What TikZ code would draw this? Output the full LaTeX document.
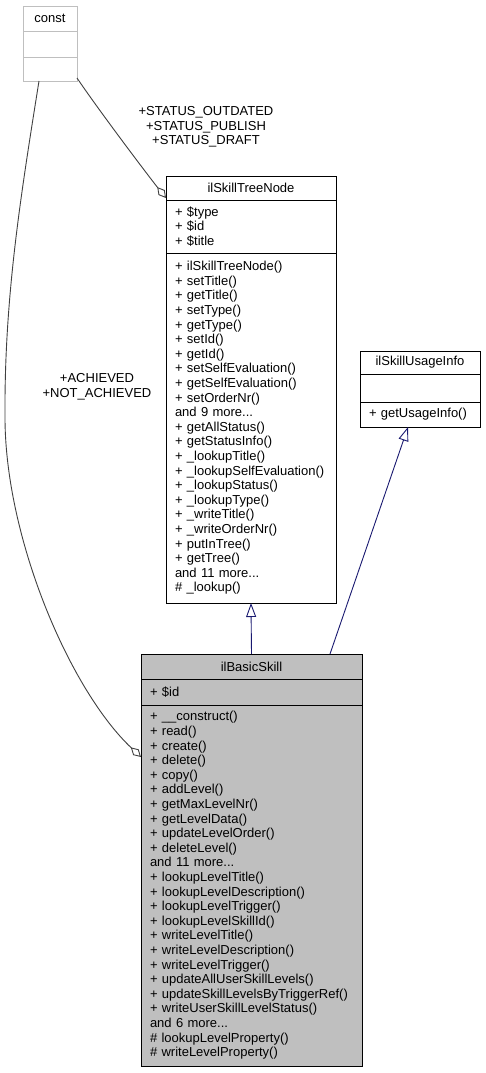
\documentclass[tikz,border=0pt]{standalone}
\usepackage{fontspec}
\setmainfont{Liberation Sans}
\usetikzlibrary{arrows.meta,positioning}
\definecolor{edgegray}{HTML}{404040}
\definecolor{inhblue}{HTML}{191970}
\definecolor{boxgray}{HTML}{BFBFBF}
\tikzstyle{cpart}=[draw=black,rectangle,outer sep=0pt,inner xsep=9pt,inner ysep=2pt,align=left,font=\fontsize{13}{14.6}\selectfont]
\tikzstyle{chead}=[cpart,align=center]
\tikzstyle{aggr}=[draw=edgegray,-{Diamond[open,length=14pt,width=8pt]}]
\tikzstyle{inher}=[draw=inhblue,-{Triangle[open,length=14pt,width=10pt]}]
\tikzstyle{elabel}=[align=center,font=\fontsize{13}{14.6}\selectfont]

\begin{document}
\begin{tikzpicture}[x=1pt,y=-1pt,line width=0.9pt]
\useasboundingbox (0,0) rectangle (486,1073);
% const
\node[chead,draw=boxgray,minimum width=54pt,text width=36pt,minimum height=25pt,anchor=north west] (chead) at (23,6) {const};
\node[cpart,draw=boxgray,minimum width=54pt,text width=36pt,minimum height=26pt,below=0pt of chead] (cattr) {};
\node[cpart,draw=boxgray,minimum width=54pt,text width=36pt,minimum height=24pt,below=0pt of cattr] (cmeth) {};
% ilSkillTreeNode
\node[chead,minimum width=170pt,text width=152pt,minimum height=24pt,anchor=north west] (tnhead) at (166,176) {ilSkillTreeNode};
\node[cpart,minimum width=170pt,text width=152pt,minimum height=53pt,below=0pt of tnhead] (tnattr) {+ \$type\\+ \$id\\+ \$title};
\node[cpart,minimum width=170pt,text width=152pt,minimum height=350pt,below=0pt of tnattr] (tnmeth) {+ ilSkillTreeNode()\\+ setTitle()\\+ getTitle()\\+ setType()\\+ getType()\\+ setId()\\+ getId()\\+ setSelfEvaluation()\\+ getSelfEvaluation()\\+ setOrderNr()\\and 9 more...\\+ getAllStatus()\\+ getStatusInfo()\\+ \_lookupTitle()\\+ \_lookupSelfEvaluation()\\+ \_lookupStatus()\\+ \_lookupType()\\+ \_writeTitle()\\+ \_writeOrderNr()\\+ putInTree()\\+ getTree()\\and 11 more...\\\# \_lookup()};
% ilSkillUsageInfo
\node[chead,minimum width=120pt,text width=102pt,minimum height=23pt,anchor=north west] (uihead) at (360,351) {ilSkillUsageInfo};
\node[cpart,minimum width=120pt,text width=102pt,minimum height=28pt,below=0pt of uihead] (uiattr) {};
\node[cpart,minimum width=120pt,text width=102pt,minimum height=25pt,below=0pt of uiattr] (uimeth) {+ getUsageInfo()};
% ilBasicSkill
\node[chead,fill=boxgray,minimum width=221pt,text width=203pt,minimum height=25pt,anchor=north west] (bshead) at (141,654) {ilBasicSkill};
\node[cpart,fill=boxgray,minimum width=221pt,text width=203pt,minimum height=26pt,below=0pt of bshead] (bsattr) {+ \$id};
\node[cpart,fill=boxgray,minimum width=221pt,text width=203pt,minimum height=361pt,below=0pt of bsattr] (bsmeth) {+ \_\_construct()\\+ read()\\+ create()\\+ delete()\\+ copy()\\+ addLevel()\\+ getMaxLevelNr()\\+ getLevelData()\\+ updateLevelOrder()\\+ deleteLevel()\\and 11 more...\\+ lookupLevelTitle()\\+ lookupLevelDescription()\\+ lookupLevelTrigger()\\+ lookupLevelSkillId()\\+ writeLevelTitle()\\+ writeLevelDescription()\\+ writeLevelTrigger()\\+ updateAllUserSkillLevels()\\+ updateSkillLevelsByTriggerRef()\\+ writeUserSkillLevelStatus()\\and 6 more...\\\# lookupLevelProperty()\\\# writeLevelProperty()};
% edges
\draw[aggr] ([yshift=3pt]cmeth.south east) .. controls (100,112) and (150,178) .. ([yshift=2pt]tnhead.south west);
\node[elabel] (lstatus) at (206,127) {+STATUS\_OUTDATED\\+STATUS\_PUBLISH\\+STATUS\_DRAFT};
\draw[aggr] ([xshift=-11pt]cmeth.south) .. controls (20,200) and (4,300) .. (5,420) .. controls (6,540) and (70,690) .. ([yshift=-52pt]bsmeth.north west);
\node[elabel] (lachieved) at (97,387) {+ACHIEVED\\+NOT\_ACHIEVED};
\draw[inher] (bshead.north) -- (tnmeth.south);
\draw[inher] ([xshift=-32pt]bshead.north east) -- ([xshift=-12pt]uimeth.south);
\end{tikzpicture}
\end{document}
